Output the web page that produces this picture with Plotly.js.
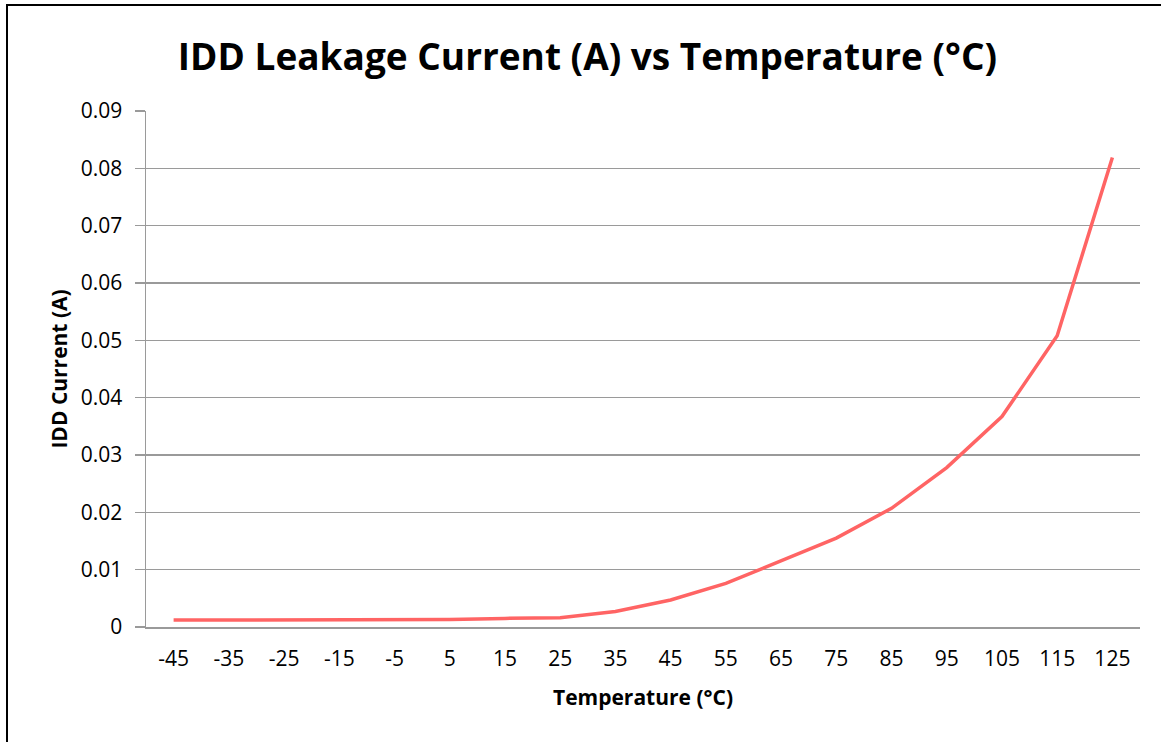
<!DOCTYPE html>
<html>
<head>
<meta charset="utf-8">
<script src="https://cdn.plot.ly/plotly-3.0.1.min.js"></script>
<style>
  html, body { margin: 0; padding: 0; background: #fff; }
  #wrap { position: relative; width: 1161px; height: 742px; }
  #chart { position: absolute; left: 0; top: 0; width: 1161px; height: 742px; }
  #frame { position: absolute; left: 6px; top: 4px; width: 1160px; height: 745px;
           border-left: 2.5px solid #000; border-top: 2.5px solid #000; pointer-events: none; }
</style>
</head>
<body>
<div id="wrap">
  <div id="chart"></div>
  <div id="frame"></div>
</div>
<script>
// Data
const temperatures = ['-45','-35','-25','-15','-5','5','15','25','35','45','55','65','75','85','95','105','115','125'];
const iddCurrent = [0.0012, 0.0012, 0.0012, 0.0012, 0.0012, 0.0013, 0.0015, 0.0016, 0.0027, 0.0047, 0.0076, 0.0115, 0.0155, 0.0207, 0.0278, 0.0367, 0.0508, 0.0819];
const yTicks = [0, 0.01, 0.02, 0.03, 0.04, 0.05, 0.06, 0.07, 0.08, 0.09];
const yTickText = ['0', '0.01', '0.02', '0.03', '0.04', '0.05', '0.06', '0.07', '0.08', '0.09'];

const FONT = '"Open Sans", Lato, sans-serif';

const trace = {
  x: temperatures,
  y: iddCurrent,
  type: 'scatter',
  mode: 'lines',
  line: { color: '#FF6464', width: 3.5 },
  hoverinfo: 'x+y'
};

const layout = {
  width: 1161,
  height: 742,
  margin: { l: 146, r: 21, t: 111, b: 115 },
  paper_bgcolor: 'rgba(0,0,0,0)',
  plot_bgcolor: '#fff',
  showlegend: false,
  title: {
    text: '<b>IDD Leakage Current (A) vs Temperature (°C)</b>',
    font: { family: FONT, size: 37, color: '#000' },
    x: 0.506, xanchor: 'center',
    y: 0.923, yanchor: 'middle'
  },
  xaxis: {
    type: 'category',
    range: [-0.5, 17.5],
    showgrid: false,
    showline: true,
    linecolor: '#9a9a9a',
    linewidth: 1.5,
    ticks: '',
    ticklabelstandoff: 12,
    tickfont: { family: FONT, size: 21, color: '#000' },
    title: {
      text: '<b>Temperature (°C)</b>',
      font: { family: FONT, size: 21, color: '#000' },
      standoff: 19
    },
    zeroline: false
  },
  yaxis: {
    range: [0, 0.09],
    tickvals: yTicks,
    ticktext: yTickText,
    showgrid: true,
    gridcolor: '#9a9a9a',
    gridwidth: 1.5,
    showline: true,
    linecolor: '#9a9a9a',
    linewidth: 1.5,
    ticks: 'outside',
    ticklen: 10,
    tickcolor: '#9a9a9a',
    tickwidth: 1.5,
    ticklabelstandoff: 8,
    tickfont: { family: FONT, size: 21, color: '#000' },
    title: {
      text: '<b>IDD Current (A)</b>',
      font: { family: FONT, size: 21, color: '#000' },
      standoff: 7
    },
    zeroline: false
  }
};

Plotly.newPlot('chart', [trace], layout, { displayModeBar: false, staticPlot: true });
</script>
</body>
</html>
